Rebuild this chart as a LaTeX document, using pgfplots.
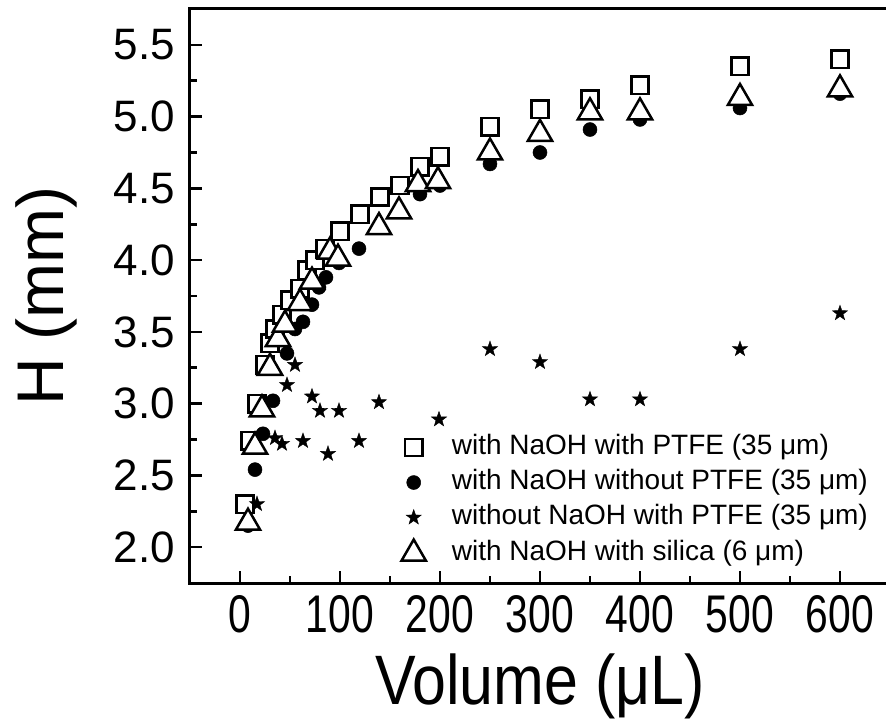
\documentclass[border=0pt]{standalone}
\usepackage{fontspec}
\setmainfont{Liberation Sans}
\usepackage{graphicx}
\usepackage{pgfplots}
\pgfplotsset{compat=1.18}
\usetikzlibrary{plotmarks}

\pgfdeclareplotmark{fstar}{%
  \pgfpathmoveto{\pgfpointpolar{90}{\pgfplotmarksize}}%
  \pgfpathlineto{\pgfpointpolar{126}{0.4\pgfplotmarksize}}%
  \pgfpathlineto{\pgfpointpolar{162}{\pgfplotmarksize}}%
  \pgfpathlineto{\pgfpointpolar{198}{0.4\pgfplotmarksize}}%
  \pgfpathlineto{\pgfpointpolar{234}{\pgfplotmarksize}}%
  \pgfpathlineto{\pgfpointpolar{270}{0.4\pgfplotmarksize}}%
  \pgfpathlineto{\pgfpointpolar{306}{\pgfplotmarksize}}%
  \pgfpathlineto{\pgfpointpolar{342}{0.4\pgfplotmarksize}}%
  \pgfpathlineto{\pgfpointpolar{18}{\pgfplotmarksize}}%
  \pgfpathlineto{\pgfpointpolar{54}{0.4\pgfplotmarksize}}%
  \pgfpathclose
  \pgfusepathqfillstroke
}

\begin{document}
\begin{tikzpicture}
\begin{axis}[
  scale only axis, width=700bp, height=574bp,
  xmin=-50, xmax=650, ymin=1.75, ymax=5.75,
  xtick={0,100,...,600}, ytick={2,2.5,...,5.5},
  minor x tick num=1, minor y tick num=1,
  xtick pos=left, ytick pos=left,
  tick align=inside,
  major tick length=12bp, minor tick length=7bp,
  axis line style={line width=3bp},
  every tick/.style={line width=2.6bp, black},
  /pgf/number format/assume math mode=true,
  yticklabel style={/pgf/number format/fixed, /pgf/number format/fixed zerofill, /pgf/number format/precision=1,
    font=\fontsize{44bp}{44bp}\selectfont, anchor=east, inner sep=0pt, xshift=-15bp},
  xticklabel={\scalebox{0.77}[1]{\pgfmathprintnumber{\tick}}},
  xticklabel style={font=\fontsize{53bp}{53bp}\selectfont, anchor=north, inner sep=0pt, yshift=-12bp},
  xlabel={\scalebox{0.87}[1]{Volume (μL)}},
  ylabel={H (mm)},
  xlabel style={at={(axis description cs:0.5,-0.2125)}, anchor=base, inner sep=0pt, font=\fontsize{70bp}{70bp}\selectfont},
  ylabel style={at={(axis description cs:-0.1814,0.5)}, anchor=base, inner sep=0pt, font=\fontsize{66bp}{66bp}\selectfont},
  legend style={draw=none, fill=none, at={(0.302,0.259)}, anchor=north west, inner sep=0pt,
    font=\fontsize{28bp}{28bp}\selectfont,
    nodes={inner sep=0pt, text height=20bp, text depth=6bp}, row sep=9bp,
    /tikz/every odd column/.append style={column sep=26bp}},
  legend cell align=left,
]
\addplot[only marks, mark=square*, mark size=8.7bp, mark options={draw=black, fill=white, line width=2.5bp}] table {
x y
5 2.30
10 2.74
17 3.00
25 3.27
30 3.42
35 3.52
42 3.62
50 3.72
60 3.80
67 3.93
75 4.00
85 4.08
100 4.20
120 4.32
140 4.44
160 4.52
180 4.65
200 4.72
250 4.93
300 5.05
350 5.12
400 5.22
500 5.35
600 5.40
};
\addlegendentry{with NaOH with PTFE (35 μm)}
\addplot[only marks, mark=*, mark size=7bp, mark options={draw=black, fill=black, line width=0.5bp}] table {
x y
8 2.15
15 2.54
23 2.79
33 3.02
47 3.35
55 3.52
63 3.57
72 3.69
79 3.81
86 3.88
99 3.98
119 4.08
180 4.46
200 4.52
250 4.67
300 4.75
350 4.91
400 4.98
500 5.06
600 5.16
};
\addlegendentry{with NaOH without PTFE (35 μm)}
\addplot[only marks, mark=fstar, mark size=8bp, mark options={draw=black, fill=black, line width=0.4bp}] table {
x y
17 2.30
35 2.76
42 2.72
47 3.13
55 3.27
63 2.74
72 3.05
80 2.95
88 2.65
99 2.95
119 2.74
139 3.01
199 2.89
250 3.38
300 3.29
350 3.03
400 3.03
500 3.38
600 3.63
};
\addlegendentry{without NaOH with PTFE (35 μm)}
\addplot[only marks, mark=triangle*, mark size=14bp, mark options={draw=black, fill=white, line width=2.5bp}] table {
x y
8 2.17
15 2.70
22 2.96
30 3.25
38 3.45
45 3.55
60 3.70
72 3.85
90 4.06
98 4.01
139 4.23
159 4.34
178 4.53
198 4.55
250 4.75
300 4.88
350 5.03
400 5.03
500 5.13
600 5.19
};
\addlegendentry{with NaOH with silica (6 μm)}
\end{axis}
\pgfresetboundingbox
\useasboundingbox (-190bp,-136bp) rectangle (696bp,583bp);
\end{tikzpicture}
\end{document}
